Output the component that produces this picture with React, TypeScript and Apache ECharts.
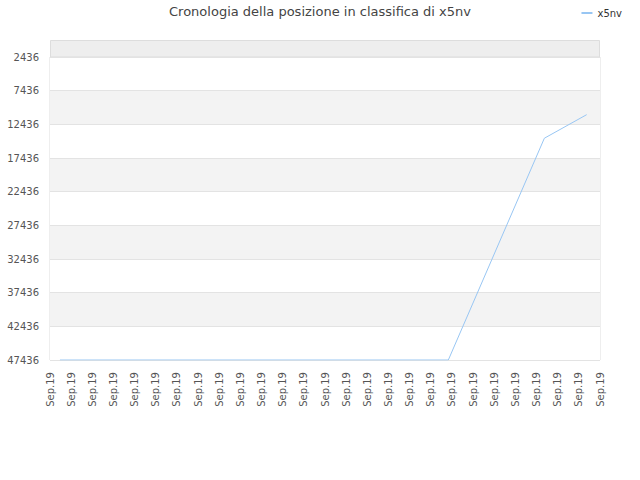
import React, { useEffect, useRef } from "react";
import * as echarts from "echarts";

// x positions in days along the axis (27 ticks, all labelled "Sep.19")
const tickLabels = Array(27).fill("Sep.19");
const days = [0.47, 18.83, 23.37, 25.37];
const ranks = [47436, 47436, 14500, 11000];
const seriesName = "x5nv";

// rank axis ticks: 2436, 7436, ... 47436
const rankMin = 2436;
const rankMax = 47436;
const rankStep = 5000;

const GRID_LEFT = 50;
const GRID_RIGHT = 40;
const GRID_TOP = 57;
const TOP_BAND = 17; // band above the first tick (ranks 0..2436)

const App = () => {
  const chartRef = useRef<HTMLDivElement>(null);

  useEffect(() => {
    const chart = echarts.init(chartRef.current, null, { renderer: "svg" });
    const width = chart.getWidth();

    chart.setOption({
      animation: false,
      textStyle: { fontFamily: "DejaVu Sans" },
      title: {
        text: "Cronologia della posizione in classifica di x5nv",
        left: "center",
        top: 0,
        textStyle: { fontSize: 13, fontWeight: "normal", color: "#444" },
      },
      legend: {
        data: [seriesName],
        right: 13,
        top: 3,
        itemWidth: 11,
        itemHeight: 2,
        itemGap: 6,
        icon: "rect",
        textStyle: { fontSize: 10, color: "#333" },
      },
      graphic: [
        {
          type: "rect",
          silent: true,
          z: -1,
          shape: {
            x: GRID_LEFT + 0.5,
            y: GRID_TOP - TOP_BAND + 0.5,
            width: width - GRID_LEFT - GRID_RIGHT - 1,
            height: TOP_BAND,
          },
          style: { fill: "#eeeeee", stroke: "#dddddd", lineWidth: 1 },
        },
      ],
      grid: {
        left: GRID_LEFT,
        right: GRID_RIGHT,
        top: GRID_TOP,
        bottom: 120,
        show: true,
        borderColor: "#dddddd",
        borderWidth: 1,
      },
      xAxis: {
        type: "value",
        min: 0,
        max: tickLabels.length - 1,
        interval: 1,
        axisLine: { show: false },
        axisTick: { show: false },
        splitLine: { show: false },
        axisLabel: {
          rotate: 90,
          fontSize: 10,
          color: "#555",
          margin: 12,
          formatter: (v: number) => tickLabels[Math.round(v)] ?? "",
        },
      },
      yAxis: {
        type: "value",
        inverse: true,
        min: rankMin,
        max: rankMax,
        interval: rankStep,
        axisLine: { show: false },
        axisTick: { show: false },
        axisLabel: {
          fontSize: 10,
          color: "#555",
          margin: 11,
          formatter: (v: number) => String(v),
        },
        splitLine: { lineStyle: { color: "#e3e3e3" } },
        splitArea: {
          show: true,
          areaStyle: { color: ["#ffffff", "#f3f3f3"] },
        },
      },
      series: [
        {
          name: seriesName,
          type: "line",
          showSymbol: false,
          symbol: "none",
          lineStyle: { color: "#98c6f3", width: 1 },
          itemStyle: { color: "#98c6f3" },
          data: days.map((d, i) => [d, ranks[i]]),
        },
      ],
    });

    return () => {
      chart.dispose();
    };
  }, []);

  return (
    <div
      ref={chartRef}
      style={{ position: "fixed", left: 0, top: 0, width: 640, height: 480, background: "#fff" }}
    />
  );
};

export default App;
